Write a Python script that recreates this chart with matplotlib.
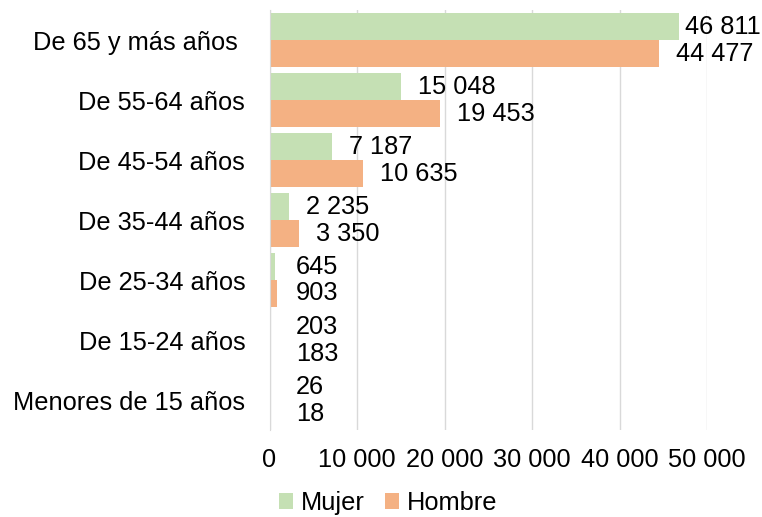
import matplotlib
matplotlib.use("Agg")
import matplotlib.pyplot as plt
import numpy as np
from matplotlib.patches import Patch

categories = ["De 65 y más años ", "De 55-64 años", "De 45-54 años", "De 35-44 años",
              "De 25-34 años", "De 15-24 años", "Menores de 15 años"]
mujer = [46811, 15048, 7187, 2235, 645, 203, 26]
hombre = [44477, 19453, 10635, 3350, 903, 183, 18]
mujer_labels = ["46 811", "15 048", "7 187", "2 235", "645", "203", "26"]
hombre_labels = ["44 477", "19 453", "10 635", "3 350", "903", "183", "18"]
xticks = [0, 10000, 20000, 30000, 40000, 50000]
xtick_labels = ["0", "10 000", "20 000", "30 000", "40 000", "50 000"]

plt.rcParams['font.family'] = ['Liberation Sans', 'DejaVu Sans']
FS = 18.3

W, H = 762, 517
fig = plt.figure(figsize=(W/100, H/100), dpi=100)
ax = fig.add_axes([269.5/W, 1-430/H, (707-269.5)/W, 420/H])

green = "#C5E0B4"
orange = "#F4B183"
n = len(categories)
y = np.arange(n)
bh = 0.45
ax.barh(y - bh/2, mujer, height=bh, color=green, zorder=2)
ax.barh(y + bh/2, hombre, height=bh, color=orange, zorder=2)
ax.set_ylim(n - 0.5, -0.5)
ax.set_xlim(0, 50000)
ax.set_yticks(y)
ax.set_yticklabels(categories, fontsize=FS)
ax.set_xticks(xticks)
ax.set_xticklabels(xtick_labels, fontsize=FS)
ax.tick_params(axis='y', length=0, pad=17.5)
ax.tick_params(axis='x', length=0, pad=13)
for s in ['top', 'right', 'bottom']:
    ax.spines[s].set_visible(False)
ax.spines['left'].set_color('#d9d9d9')
ax.grid(axis='x', color='#d9d9d9', linewidth=1, zorder=0)
ax.set_axisbelow(True)

def lab_x(v, off):
    return max(v + off, 3050)

for i in range(n):
    off_m = 700 if mujer[i] > 45000 else 1950
    ax.text(lab_x(mujer[i], off_m), y[i] - bh/2, mujer_labels[i], va='center', ha='left',
            fontsize=FS, clip_on=False)
    ax.text(lab_x(hombre[i], 1950), y[i] + bh/2, hombre_labels[i], va='center', ha='left',
            fontsize=FS, clip_on=False)

handles = [Patch(facecolor=green, label="Mujer"), Patch(facecolor=orange, label="Hombre")]
fig.legend(handles=handles, loc='center', bbox_to_anchor=(388/W, 1-503/H), ncol=2,
           frameon=False, fontsize=FS, handlelength=0.55, handleheight=0.55,
           handletextpad=0.3, columnspacing=0.8)

fig.savefig("out.png", dpi=100)
